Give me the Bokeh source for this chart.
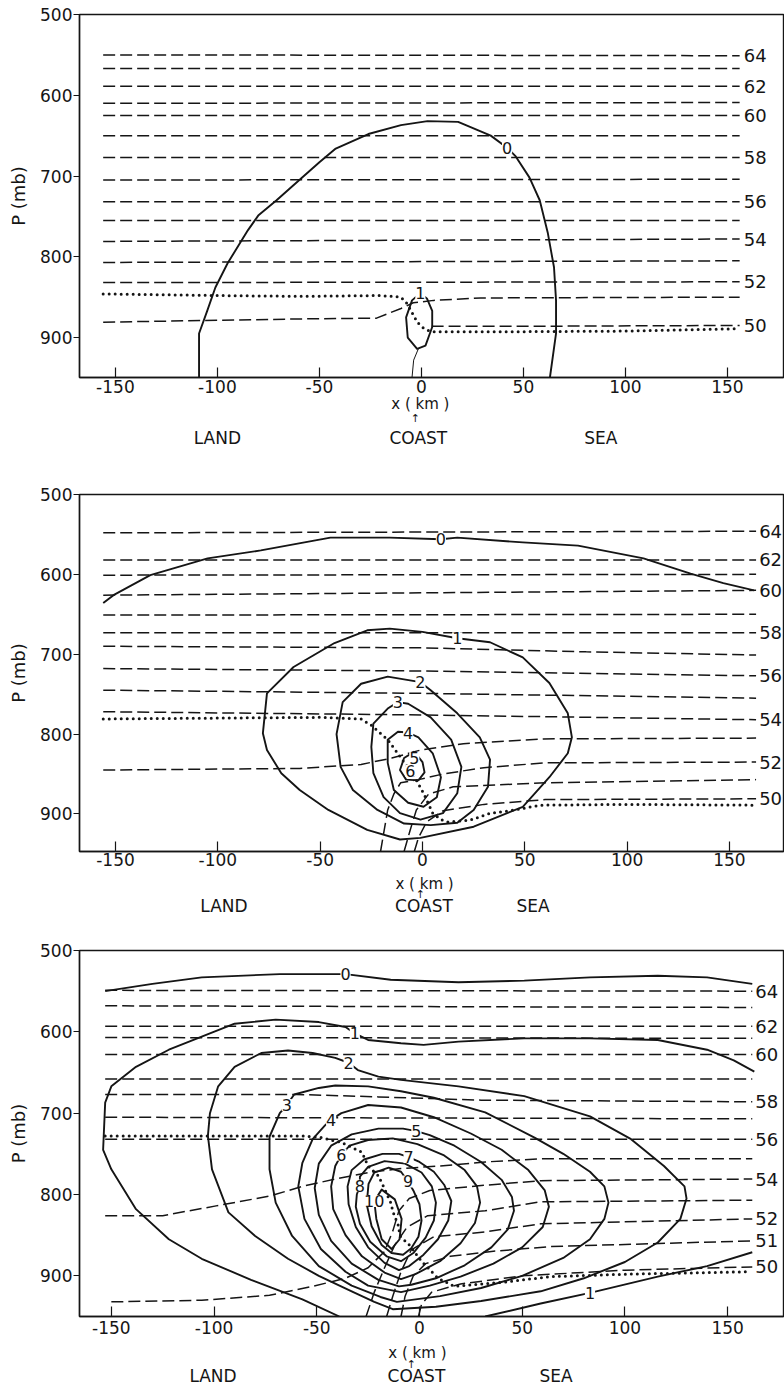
from bokeh.core.properties import value
from bokeh.embed import file_html
from bokeh.layouts import column
from bokeh.models import ColumnDataSource, FixedTicker, LabelSet, LinearAxis, Range1d
from bokeh.plotting import figure
from bokeh.resources import INLINE

INK = "#151515"
FONT = "DejaVu Sans"

X_TICKS = [-150, -100, -50, 0, 50, 100, 150]
P_TICKS = [500, 600, 700, 800, 900]
REGIONS = ["LAND", "COAST", "SEA"]

# ---------------------------------------------------------------- panel 1
# equivalent potential temperature isolines (x km, p mb), ending at the right
P1_THETA = {
    64: [(-156, 550), (156, 551)],
    63: [(-156, 567), (156, 567)],
    62: [(-156, 589), (156, 589)],
    61: [(-156, 610), (156, 609)],
    60: [(-156, 625), (156, 625)],
    59: [(-156, 650), (156, 650)],
    58: [(-156, 677), (156, 677)],
    57: [(-156, 705), (156, 704)],
    56: [(-156, 732), (156, 732)],
    55: [(-156, 755), (156, 755)],
    54: [(-156, 781), (156, 778)],
    53: [(-156, 807), (156, 805)],
    52: [(-156, 832), (156, 831)],
    51: [(-156, 881), (-60, 877), (-22, 876), (-10, 864), (-4, 857), (6, 854), (29, 851), (156, 850)],
    50: [(5, 886), (60, 886), (156, 885)],
}
P1_THETA_LABELED = [64, 62, 60, 58, 56, 54, 52, 50]
# solid isolines
P1_CLOUD = [
    [(-109, 949.5), (-109, 895), (-105, 867), (-101, 838), (-95, 808), (-85, 767), (-80, 749),
     (-71, 730), (-59, 703), (-50, 683), (-42, 666), (-26, 648), (-10, 637), (3, 632), (18, 633),
     (34, 650), (42, 665), (46, 675), (53, 702), (58, 730), (62, 771), (65, 813), (66, 854),
     (66, 895), (63, 949.5)],
    [(-0.5, 845), (2.8, 852), (5.3, 867), (5.3, 887), (2, 910), (-2.1, 914), (-6.7, 900),
     (-7.5, 875), (-4.6, 854), (-0.5, 845)],
]
P1_STEMS = [
    [(-1.5, 914), (-3.8, 928), (-4.6, 949.5)],
]
P1_CLOUD_LABELS = [("0", 42, 665), ("1", -0.5, 845)]
P1_DOTS = [(-156, 846), (-100, 848), (-60, 849), (-20, 848), (-10, 850), (-7, 858), (-4.6, 869),
           (-2, 881), (0.3, 887), (3, 891), (6, 893), (29, 893), (100, 892), (156, 889)]
P1_REGION_X = [-100, -1.5, 88]

# ---------------------------------------------------------------- panel 2
P2_THETA = {
    64: [(-156, 548), (163, 546)],
    62: [(-156, 582), (163, 582)],
    61: [(-156, 601), (163, 600)],
    60: [(-156, 626), (163, 620)],
    59: [(-156, 651), (163, 650)],
    58: [(-156, 673), (163, 673)],
    57: [(-156, 690), (0, 692), (80, 697), (163, 701)],
    56: [(-156, 718), (0, 721), (163, 727)],
    55: [(-156, 745), (0, 749), (163, 755)],
    54: [(-156, 772), (0, 776), (163, 782)],
    53: [(-156, 845), (-60, 843), (-30, 838), (-15, 830), (-1, 820), (20, 812), (59, 806), (163, 805)],
    52: [(-20.5, 947), (-17, 895), (-14, 875), (-10.7, 861), (-2, 857), (10, 850), (30, 842), (60, 836), (163, 835)],
    51: [(-9, 947), (-6, 920), (-3, 895), (3, 875), (15, 866), (60, 861), (163, 857)],
    50: [(-4, 947), (-2, 930), (2, 910), (10, 896), (30, 888), (60, 882), (163, 881)],
}
P2_THETA_LABELED = [64, 62, 60, 58, 56, 54, 52, 50]
P2_CLOUD = [
    [(-156, 636), (-151, 626), (-133, 601), (-105, 580), (-79, 570), (-45, 554), (-16, 554), (9, 556),
     (17, 554), (49, 560), (76, 564), (108, 580), (131, 599), (147, 611), (162, 620)],
    [(17, 680), (33, 685), (49, 704), (62, 736), (71, 774), (73, 804), (71, 824), (62, 854), (49, 891),
     (25, 916), (-1, 930), (-11, 932), (-27, 920), (-46, 895), (-60, 870), (-69, 849), (-76, 820),
     (-78, 799), (-76, 749), (-63, 716), (-43, 686), (-27, 670), (-16, 668), (0, 672), (17, 680)],
    [(-1, 735), (4, 745), (17, 774), (28, 804), (33, 832), (32, 866), (25, 895), (17, 911), (4, 914),
     (-9, 912), (-22, 895), (-34, 870), (-40, 841), (-42, 800), (-39, 760), (-30, 737), (-17, 728), (-1, 735)],
    [(-12, 760), (-7, 762), (4, 779), (14, 807), (19, 841), (17, 874), (10, 899), (-1, 907), (-11, 899),
     (-19, 879), (-24, 849), (-25, 816), (-24, 787), (-17, 768), (-12, 760)],
    [(-7, 798), (-2, 804), (5, 824), (9, 854), (7, 879), (0.5, 891), (-7, 886), (-14, 870), (-17, 836),
     (-17, 807), (-12, 797), (-7, 798)],
    [(-4, 822), (-9, 830), (-11, 845), (-8, 857), (-2, 858), (1, 848), (0, 835), (-4, 822)],
]
P2_STEMS = []
P2_CLOUD_LABELS = [("0", 9, 556), ("1", 17, 680), ("2", -1, 735), ("3", -12, 760), ("4", -7, 798),
                   ("5", -4, 830), ("6", -6, 846)]
P2_DOTS = [(-156, 781), (-50, 779), (-30, 781), (-25, 789), (-17, 807), (-11, 828), (-4, 853), (0.5, 874),
           (5, 899), (9, 907), (12, 910), (23, 908), (33, 899), (40, 897), (58, 889), (100, 888), (163, 889)]
P2_REGION_X = [-97, 0.7, 54]

# ---------------------------------------------------------------- panel 3
P3_THETA = {
    64: [(-153, 549), (162, 550)],
    63: [(-153, 568), (162, 570)],
    62: [(-153, 593), (162, 593)],
    61: [(-153, 607), (162, 608)],
    60: [(-153, 628), (162, 628)],
    59: [(-153, 658), (162, 658)],
    58: [(-153, 677), (-60, 677), (-20, 680), (30, 684), (162, 686)],
    57: [(-153, 705), (162, 707)],
    56: [(-153, 732), (162, 732)],
    55: [(-153, 826), (-125, 826), (-99, 814), (-73, 802), (-57, 790), (-41, 781), (-25, 773), (-9, 768),
         (10, 765), (32, 760), (59, 756), (162, 756)],
    54: [(-150, 932), (-106, 930), (-73, 924), (-52, 913), (-36, 903), (-25, 890), (-17, 870), (-13, 845),
         (-10, 820), (-5, 805), (5, 795), (30, 789), (59, 783), (162, 781)],
    53: [(-26, 950), (-22, 920), (-17, 890), (-12, 862), (-6, 840), (4, 826), (32, 820), (59, 809), (162, 807)],
    52: [(-16, 950), (-13, 925), (-9, 895), (-4, 868), (7, 852), (32, 846), (59, 836), (162, 830)],
    51: [(-9, 950), (-7, 925), (-3, 900), (3, 885), (15, 876), (35, 870), (64, 864), (162, 857)],
    50: [(-0.5, 950), (1, 935), (6, 920), (20, 910), (50, 900), (100, 893), (162, 889)],
}
P3_THETA_LABELED = [64, 62, 60, 58, 56, 54, 52, 51, 50]
P3_CLOUD = [
    [(-153, 550), (-130, 541), (-106, 533), (-68, 529), (-36, 529), (-14, 536), (19, 539), (51, 537),
     (83, 533), (116, 531), (140, 533), (162, 541)],
    [(-39, 950), (-57, 929), (-82, 905), (-106, 879), (-122, 855), (-138, 818), (-150, 769), (-154, 745),
     (-153, 687), (-150, 667), (-138, 643), (-122, 622), (-106, 606), (-90, 590), (-70, 585), (-49, 588),
     (-36, 594), (-31.5, 602), (-25, 610), (-9, 614), (2, 616), (19, 612), (51, 608), (83, 608),
     (116, 610), (140, 622), (153, 635), (163, 649)],
    [(32, 950), (59, 934), (83, 921), (116, 901), (140, 888), (162, 871)],
    [(-34.5, 638), (-30, 647), (-20, 655), (-9, 659), (19, 667), (51, 679), (83, 704), (103, 732), (119, 765),
     (129, 790), (130, 805), (127, 830), (116, 859), (100, 883), (80, 903), (59, 919), (30, 931), (8, 938),
     (-13, 941), (-22, 932), (-33, 919), (-49, 900), (-64, 879), (-80, 851), (-93, 822), (-101, 769),
     (-103, 728), (-102, 700), (-98, 667), (-90, 643), (-77, 626), (-64, 623), (-52, 626), (-41, 632),
     (-34.5, 638)],
    [(-64.6, 690), (-61, 677), (-49, 669), (-41, 666), (-25, 667), (-9, 673), (7, 681), (32, 699), (56, 730),
     (70, 750), (83, 772), (90, 790), (92, 810), (90, 830), (83, 855), (70, 878), (50, 900), (30, 915),
     (10, 925), (-11, 932), (-19, 926), (-33, 912), (-49, 888), (-62, 851), (-70, 810), (-73, 769),
     (-73, 729), (-68, 700), (-64.6, 690)],
    [(-43, 708), (-38, 700), (-25, 690), (-9, 693), (7, 705), (25, 725), (40, 745), (53, 770), (61, 795),
     (63, 815), (60, 840), (50, 865), (36, 885), (20, 901), (5, 912), (-9, 920), (-25, 912), (-36, 895),
     (-48, 867), (-56, 830), (-59, 790), (-57, 761), (-52, 732), (-46, 715), (-43, 708)],
    [(-1.5, 722), (5, 727), (17, 740), (30, 760), (40, 782), (45, 803), (46, 820), (43, 843), (35, 865),
     (22, 887), (8, 903), (-4, 911), (-10, 913), (-20, 905), (-33, 885), (-43, 857), (-49, 825),
     (-51, 792), (-49, 762), (-43, 740), (-33, 726), (-20, 719), (-8, 719), (-1.5, 722)],
    [(-38, 751), (-34, 740), (-25, 733), (-13, 731), (-1, 738), (12, 752), (22, 770), (28, 790),
     (29.5, 810), (27, 835), (20, 860), (10, 882), (-2, 898), (-9, 904), (-17, 896), (-28, 876),
     (-36, 850), (-42, 818), (-43, 790), (-41, 765), (-38, 751)],
    [(-5.3, 754), (0, 760), (7, 772), (12, 788), (15.5, 808), (14, 832), (9, 855), (2, 874), (-5, 888),
     (-10, 893), (-17, 884), (-25, 865), (-31, 840), (-34.5, 812), (-35, 790), (-33, 770), (-27, 757),
     (-18, 750), (-10, 750), (-5.3, 754)],
    [(-29, 789), (-29, 778), (-25, 766), (-17, 759), (-7, 762), (1, 773), (6, 790), (8, 810), (7, 832),
     (3, 853), (-3, 872), (-9, 882), (-16, 876), (-24, 858), (-29, 836), (-31, 815), (-30.5, 800), (-29, 789)],
    [(-5.5, 784), (-3, 795), (0, 812), (1, 832), (-0.5, 852), (-4, 866), (-8, 874), (-13.6, 872),
     (-18.4, 862), (-23.3, 839), (-25.7, 812), (-24.8, 787), (-22, 773), (-15, 767), (-9, 772), (-5.5, 784)],
    [(-22, 808), (-18.4, 794), (-12, 806), (-8.7, 830), (-9.7, 855), (-13.6, 867), (-18.4, 855),
     (-21, 830), (-22, 808)],
]
P3_STEMS = []
P3_CLOUD_LABELS = [("0", -36, 529), ("1", -31.5, 602), ("1", 83, 921), ("2", -34.5, 638), ("3", -64.6, 690),
                   ("4", -43, 708), ("5", -1.5, 722), ("6", -38, 751), ("7", -5.3, 754), ("8", -29, 789),
                   ("9", -5.5, 784), ("10", -22, 808)]
P3_DOTS = [(-153, 728), (-57, 728), (-48, 730), (-38, 736), (-28, 748), (-25, 765), (-20, 777), (-17, 793),
           (-14, 810), (-12.8, 822), (-10.3, 838), (-9.5, 851), (-5, 862), (1, 882), (9, 903), (17, 913),
           (40, 908), (64, 901), (100, 898), (161, 895)]
P3_REGION_X = [-100.5, -1.5, 66.5]

# frame geometry of each panel (pixels) and the spacing of the captions below it
FRAMES = [
    dict(height=460, top=14, bottom=83, left=79, x=(-167.6, 177.5), pbot=949.5, tlx=2.0,
         xstand=2, km_x=-0.5, kmstand=-1, arrow_x=-3, arrowstand=-4, wordstand=0),
    dict(height=470, top=34, bottom=79, left=79, x=(-167.6, 176.4), pbot=947, tlx=1.5,
         xstand=1, km_x=1, kmstand=6, arrow_x=-1, arrowstand=-8, wordstand=-8),
    dict(height=458, top=20, bottom=70, left=77, x=(-165.5, 177.2), pbot=950, tlx=1.5,
         xstand=4, km_x=-1, kmstand=7, arrow_x=-4, arrowstand=-7, wordstand=-8),
]


def unzip(pts):
    return [a for a, _ in pts], [b for _, b in pts]


def caption_axis(p, ticks, texts, size, standoff):
    """A bare axis below the frame that only carries text at given x positions."""
    ax = LinearAxis(ticker=FixedTicker(ticks=ticks),
                    major_label_overrides=dict(zip(ticks, texts)),
                    axis_line_color=None, major_tick_line_color=None, minor_tick_line_color=None,
                    major_tick_in=0, major_tick_out=0, minor_tick_in=0, minor_tick_out=0,
                    major_label_standoff=standoff, major_label_text_font=FONT,
                    major_label_text_font_size=size, major_label_text_color=INK)
    p.add_layout(ax, "below")


def make_panel(theta, labeled, cloud, stems, cloud_labels, dots, region_x, f):
    p = figure(width=784, height=f["height"], x_range=Range1d(*f["x"]),
               y_range=Range1d(f["pbot"], 500), min_border_left=f["left"], min_border_right=1,
               min_border_top=f["top"], min_border_bottom=f["bottom"],
               output_backend="svg", toolbar_location=None)
    p.grid.visible = False
    p.background_fill_color = "white"
    p.border_fill_color = "white"
    p.outline_line_color = INK
    p.outline_line_width = 1.4

    xa = p.xaxis[0]
    xa.ticker = FixedTicker(ticks=X_TICKS)
    xa.major_label_overrides = {t: str(t) for t in X_TICKS}
    xa.major_tick_in, xa.major_tick_out = 10, 0
    xa.major_label_standoff = f["xstand"]
    ya = p.yaxis[0]
    ya.ticker = FixedTicker(ticks=P_TICKS)
    ya.major_tick_in, ya.major_tick_out = 0, 6
    ya.major_label_standoff = 1
    ya.axis_label = "P (mb)"
    ya.axis_label_standoff = 8
    ya.axis_label_text_font_size = "18px"
    ya.axis_label_text_font = FONT
    ya.axis_label_text_font_style = "normal"
    ya.axis_label_text_color = INK
    for ax in (xa, ya):
        ax.minor_tick_in, ax.minor_tick_out = 0, 0
        ax.axis_line_color = INK
        ax.axis_line_width = 1.4
        ax.major_tick_line_color = INK
        ax.major_tick_line_width = 1.2
        ax.major_label_text_font = FONT
        ax.major_label_text_font_size = "17px"
        ax.major_label_text_color = INK

    # distance caption, coast marker and the land / coast / sea captions
    caption_axis(p, [f["km_x"]], ["x ( km )"], "15px", f["kmstand"])
    caption_axis(p, [f["arrow_x"]], ["\u2191"], "11px", f["arrowstand"])
    caption_axis(p, region_x, REGIONS, "17px", f["wordstand"])

    # isentropes
    for k, pts in theta.items():
        xs, ps = unzip(pts)
        p.line(xs, ps, line_color=INK, line_width=1.5, line_dash="12 5")
    lab_x = [theta[k][-1][0] + f["tlx"] for k in labeled]
    lab_p = [theta[k][-1][1] for k in labeled]
    p.add_layout(LabelSet(x="x", y="p", text="t",
                          source=ColumnDataSource(dict(x=lab_x, p=lab_p, t=[str(k) for k in labeled])),
                          text_font=value(FONT), text_font_size="18px", text_color=INK,
                          text_align="left", text_baseline="middle"))

    # solid isolines
    for pts in cloud:
        xs, ps = unzip(pts)
        p.line(xs, ps, line_color=INK, line_width=1.9, line_join="round")
    for pts in stems:
        xs, ps = unzip(pts)
        p.line(xs, ps, line_color=INK, line_width=1.0)

    # dotted line
    xs, ps = unzip(dots)
    p.line(xs, ps, line_color=INK, line_width=3, line_dash="0 6", line_cap="round")

    # isoline values
    p.add_layout(LabelSet(x="x", y="p", text="t",
                          source=ColumnDataSource(dict(x=[c[1] for c in cloud_labels],
                                                       p=[c[2] for c in cloud_labels],
                                                       t=[c[0] for c in cloud_labels])),
                          text_font=value(FONT), text_font_size="16px", text_color=INK,
                          text_align="center", text_baseline="middle",
                          background_fill_color="white"))
    return p


panels = [
    make_panel(P1_THETA, P1_THETA_LABELED, P1_CLOUD, P1_STEMS, P1_CLOUD_LABELS, P1_DOTS, P1_REGION_X, FRAMES[0]),
    make_panel(P2_THETA, P2_THETA_LABELED, P2_CLOUD, P2_STEMS, P2_CLOUD_LABELS, P2_DOTS, P2_REGION_X, FRAMES[1]),
    make_panel(P3_THETA, P3_THETA_LABELED, P3_CLOUD, P3_STEMS, P3_CLOUD_LABELS, P3_DOTS, P3_REGION_X, FRAMES[2]),
]

layout = column(*panels, spacing=0)
open("out.html", "w").write(file_html(layout, INLINE))
